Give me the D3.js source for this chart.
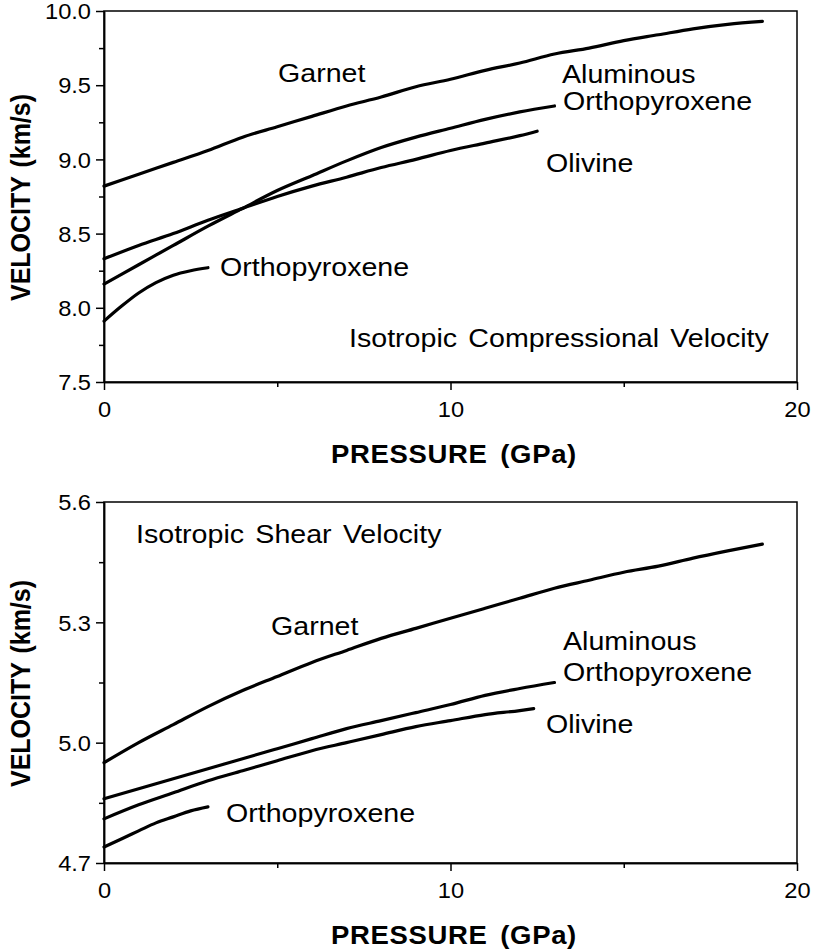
<!DOCTYPE html>
<html><head><meta charset="utf-8">
<script src="https://cdn.jsdelivr.net/npm/d3@7"></script>
<style>body{margin:0;background:#fff}svg{display:block}text{font-family:"Liberation Sans",Arial,Helvetica,sans-serif;fill:#000}</style>
</head><body><svg id="c" width="814" height="952"></svg>
<script>
// ---- data ----
const pressureTicks = [0, 10, 20];
const pressureMinor = [5, 15];
const vpTicks = [7.5, 8.0, 8.5, 9.0, 9.5, 10.0];
const vpMinor = [7.75, 8.25, 8.75, 9.25, 9.75];
const vsTicks = [4.7, 5.0, 5.3, 5.6];
const vsMinor = [4.85, 5.15, 5.45];

// compressional velocity (top)
const vpGarnetP = [0,1,2,3,4,5,6,7,8,9,10,11,12,13,14,15,16,17,18,19];
const vpGarnetV = [8.82,8.90,8.98,9.06,9.15,9.22,9.29,9.36,9.42,9.49,9.54,9.60,9.65,9.71,9.75,9.80,9.84,9.88,9.91,9.93];
const vpAlOpxP = [0,1,2,3,4,5,6,7,8,9,10,11,12,13];
const vpAlOpxV = [8.16,8.29,8.42,8.55,8.67,8.79,8.89,8.99,9.08,9.15,9.21,9.27,9.32,9.36];
const vpOlivineP = [0,1,2,3,4,5,6,7,8,9,10,11,12,12.5];
const vpOlivineV = [8.33,8.42,8.50,8.59,8.67,8.75,8.82,8.88,8.945,9.00,9.06,9.11,9.16,9.19];
const vpOpxP = [0,0.5,1,1.5,2,2.5,3];
const vpOpxV = [7.91,8.01,8.10,8.17,8.22,8.25,8.27];

// shear velocity (bottom)
const vsGarnetP = [0,1,2,3,4,5,6,7,8,9,10,11,12,13,14,15,16,17,18,19];
const vsGarnetV = [4.95,5.00,5.045,5.09,5.13,5.165,5.20,5.23,5.26,5.285,5.31,5.335,5.36,5.385,5.405,5.425,5.44,5.46,5.478,5.495];
const vsAlOpxP = [0,1,2,3,4,5,6,7,8,9,10,11,12,13];
const vsAlOpxV = [4.86,4.885,4.91,4.935,4.96,4.985,5.01,5.035,5.055,5.075,5.095,5.118,5.135,5.15];
const vsOlivineP = [0,1,2,3,4,5,6,7,8,9,10,11,12,12.4];
const vsOlivineV = [4.81,4.845,4.875,4.905,4.93,4.955,4.98,5.00,5.02,5.04,5.055,5.07,5.08,5.085];
const vsOpxP = [0,0.5,1,1.5,2,2.5,3];
const vsOpxV = [4.74,4.76,4.78,4.80,4.815,4.83,4.84];

// ---- drawing ----
const svg = d3.select("#c");
const SX = 1.1;

function addText(g, x, y, txt, o = {}) {
  const t = g.append("text")
    .attr("transform", `translate(${x},${y}) scale(${SX},1)` + (o.rotate ? ` rotate(${o.rotate})` : ""))
    .attr("text-anchor", o.anchor || "start")
    .style("font-size", (o.size || 26) + "px")
    .style("font-weight", o.weight || "normal")
    .text(txt);
  if (o.ls) t.style("letter-spacing", o.ls + "px");
  if (o.ws) t.style("word-spacing", o.ws + "px");
  return t;
}

function panel(cfg) {
  const x = d3.scaleLinear().domain([0, 20]).range([cfg.left, cfg.right]);
  const y = d3.scaleLinear().domain(cfg.yDomain).range([cfg.bottom, cfg.top]);
  const g = svg.append("g");

  // series
  const line = d3.line().x(d => x(d[0])).y(d => y(d[1])).curve(d3.curveMonotoneX);
  cfg.series.forEach(s => {
    g.append("path").datum(s.p.map((p, i) => [p, s.v[i]]))
      .attr("d", line).attr("fill", "none").attr("stroke", "#000")
      .attr("stroke-width", 3.2).attr("stroke-linecap", "round").attr("stroke-linejoin", "round");
  });

  // box
  g.append("rect").attr("x", cfg.left).attr("y", cfg.top)
    .attr("width", cfg.right - cfg.left).attr("height", cfg.bottom - cfg.top)
    .attr("fill", "none").attr("stroke", "#000").attr("stroke-width", 1.5);

  // axes
  const yAx = g.append("g").attr("transform", `translate(${cfg.left},0)`)
    .call(d3.axisLeft(y).tickValues(cfg.yTicks).tickSize(8).tickSizeOuter(0).tickFormat(d3.format(".1f")));
  const yMin = g.append("g").attr("transform", `translate(${cfg.left},0)`)
    .call(d3.axisLeft(y).tickValues(cfg.yMinor).tickSize(5).tickSizeOuter(0).tickFormat(""));
  const xAx = g.append("g").attr("transform", `translate(0,${cfg.bottom})`)
    .call(d3.axisBottom(x).tickValues(pressureTicks).tickSize(8).tickSizeOuter(0).tickFormat(d3.format("d")));
  const xMin = g.append("g").attr("transform", `translate(0,${cfg.bottom})`)
    .call(d3.axisBottom(x).tickValues(pressureMinor).tickSize(5).tickSizeOuter(0).tickFormat(""));
  [yAx, yMin, xAx, xMin].forEach(a => {
    a.select(".domain").attr("stroke-width", 1.5);
    a.selectAll(".tick line").attr("stroke-width", 1.5);
  });
  yAx.selectAll("text").attr("x", -11.8).attr("dy", "0.36em")
    .attr("transform", `scale(${SX},1)`)
    .style("font-size", "21.5px").style("font-family", '"Liberation Sans",Arial,sans-serif');
  xAx.selectAll("text").attr("y", 20).attr("dy", "0.71em")
    .attr("transform", `scale(${SX},1)`)
    .style("font-size", "21.5px").style("font-family", '"Liberation Sans",Arial,sans-serif');

  // axis titles
  addText(g, 20, (cfg.top + cfg.bottom) / 2 + 1, "VELOCITY (km/s)", {size: 25, weight: "bold", anchor: "middle", rotate: -90, ws: 2}).attr("dy", "0.36em");
  addText(g, 454, cfg.bottom + 81, "PRESSURE (GPa)", {size: 25, weight: "bold", anchor: "middle", ws: 4, ls: 0.6});

  cfg.labels.forEach(l => addText(g, l.x, l.y, l.t, {size: 26, ws: 3}));
}

panel({
  left: 104, right: 797, top: 11, bottom: 382, yDomain: [7.5, 10.0],
  yTicks: vpTicks, yMinor: vpMinor,
  series: [
    {p: vpGarnetP, v: vpGarnetV}, {p: vpAlOpxP, v: vpAlOpxV},
    {p: vpOlivineP, v: vpOlivineV}, {p: vpOpxP, v: vpOpxV}
  ],
  labels: [
    {x: 278, y: 82, t: "Garnet"},
    {x: 562, y: 83, t: "Aluminous"},
    {x: 563, y: 110, t: "Orthopyroxene"},
    {x: 546, y: 172, t: "Olivine"},
    {x: 220, y: 276, t: "Orthopyroxene"},
    {x: 349, y: 347, t: "Isotropic Compressional Velocity"}
  ]
});

panel({
  left: 104, right: 797, top: 502, bottom: 863, yDomain: [4.7, 5.6],
  yTicks: vsTicks, yMinor: vsMinor,
  series: [
    {p: vsGarnetP, v: vsGarnetV}, {p: vsAlOpxP, v: vsAlOpxV},
    {p: vsOlivineP, v: vsOlivineV}, {p: vsOpxP, v: vsOpxV}
  ],
  labels: [
    {x: 136, y: 543, t: "Isotropic Shear Velocity"},
    {x: 271, y: 635, t: "Garnet"},
    {x: 563, y: 650, t: "Aluminous"},
    {x: 563, y: 681, t: "Orthopyroxene"},
    {x: 546, y: 733, t: "Olivine"},
    {x: 226, y: 822, t: "Orthopyroxene"}
  ]
});
</script></body></html>
